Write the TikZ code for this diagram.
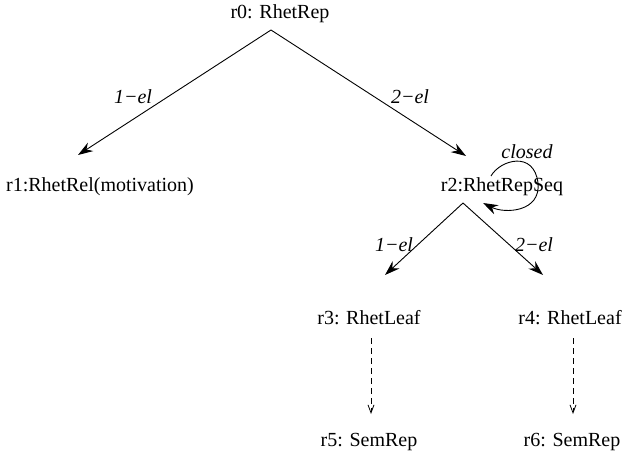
\documentclass[tikz,border=0pt]{standalone}
\usepackage{fontspec}
\setmainfont{Liberation Serif}
\usetikzlibrary{arrows.meta}
\begin{document}
\begin{tikzpicture}[x=1pt,y=-1pt,
  lbl/.style={font=\fontsize{20}{24}\selectfont, inner sep=0pt},
  edgelbl/.style={font=\fontsize{20}{24}\selectfont\itshape, inner sep=0pt},
  tree/.style={line width=0.9pt, -{Stealth[length=15pt,width=10pt,inset=5pt]}},
  link/.style={line width=0.8pt, dash pattern=on 6pt off 4pt, -{Straight Barb[length=8pt,width=6pt]}}]
\useasboundingbox (0,0) rectangle (632,460);

% relation tree nodes
\node[lbl] (r0) at (280,14) {r0: RhetRep};
\node[lbl] (r1) at (100,187) {r1:RhetRel(motivation)};
\node[lbl] (r2) at (502,187) {r2:RhetRepSeq};
\node[lbl] (r3) at (369,318) {r3: RhetLeaf};
\node[lbl] (r4) at (570,318) {r4: RhetLeaf};
\node[lbl] (r5) at (369,442) {r5: SemRep};
\node[lbl] (r6) at (572,442) {r6: SemRep};

% branch points and arrow tips
\coordinate (r0b) at (271,30);
\coordinate (r1t) at (78,155);
\coordinate (r2t) at (466,156);
\coordinate (r2b) at (463,203);
\coordinate (r3t) at (385,275);
\coordinate (r4t) at (543,275);
\coordinate (r3b) at (371,338);
\coordinate (r5t) at (371,414);
\coordinate (r4b) at (573,338);
\coordinate (r6t) at (573,414);
\coordinate (loopin) at (491,176);
\coordinate (loopout) at (483,203);

% element edges
\draw[tree] (r0b) -- (r1t);
\draw[tree] (r0b) -- (r2t);
\draw[tree] (r2b) -- (r3t);
\draw[tree] (r2b) -- (r4t);
\node[edgelbl] (e01) at (133,97) {1−el};
\node[edgelbl] (e02) at (410,97) {2−el};
\node[edgelbl] (e23) at (394,245) {1−el};
\node[edgelbl] (e24) at (534,245) {2−el};

% closure loop on the sequence node
\draw[tree] (loopin) .. controls (500,160) and (534,150) .. (538,183)
  .. controls (541,212) and (505,214) .. (loopout);
\node[edgelbl] (cl) at (527,152) {closed};

% links to semantic representations
\draw[link] (r3b) -- (r5t);
\draw[link] (r4b) -- (r6t);
\end{tikzpicture}
\end{document}
